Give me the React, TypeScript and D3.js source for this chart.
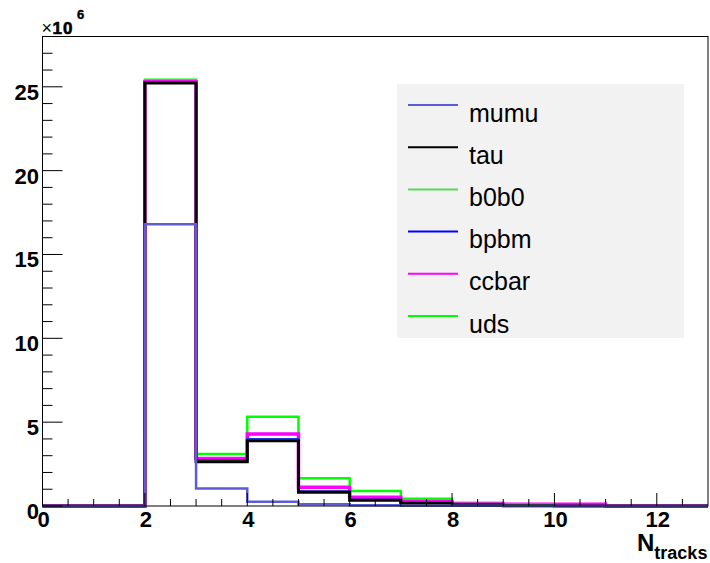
import { useEffect, useRef } from "react";
import * as d3 from "d3";

// bins of width 1 from 0 to 13, values in units of 1e6
const binEdges = d3.range(0, 14);
const seriesNames = ["mumu", "tau", "b0b0", "bpbm", "ccbar", "uds"];
const seriesColors = ["#5c5cd6", "#000000", "#5fd35f", "#0000ff", "#ff00ff", "#00ff00"];
const seriesWidths = [2.5, 3, 2, 2, 3.5, 2.5];

const mumu = [0, 0, 16.8, 1.05, 0.26, 0.1, 0.05, 0.02, 0.01, 0, 0, 0, 0];
const tau = [0, 0, 8.42, 1.59, 3.63, 0.72, 0.29, 0.14, 0.05, 0.02, 0, 0, 0];
const b0b0 = [0, 0, 0.03, 0.04, 0.06, 0.03, 0.02, 0.01, 0.02, 0.08, 0, 0, 0];
const bpbm = [0, 0, 0.03, 0.04, 0.05, 0.03, 0.02, 0.01, 0.01, 0, 0, 0, 0];
const ccbar = [0, 0, 0.02, 0.12, 0.3, 0.24, 0.14, 0.08, 0.03, 0, 0.1, 0, 0];
const uds = [0, 0, 0.12, 0.26, 1.02, 0.53, 0.37, 0.17, 0.08, 0, 0, 0, 0];

const xMajorTicks = [0, 2, 4, 6, 8, 10, 12];
const yMajorTicks = [0, 5, 10, 15, 20, 25];

export default function App() {
  const svgRef = useRef(null);

  useEffect(() => {
    const width = 710;
    const height = 563;
    const margin = { top: 36.5, right: 2, bottom: 57, left: 42.5 };
    const font = "Liberation Sans, Arial, Helvetica, sans-serif";

    d3.select(svgRef.current).selectAll("*").remove();

    const svg = d3
      .select(svgRef.current)
      .attr("width", width)
      .attr("height", height)
      .style("background", "#fff");

    const x = d3.scaleLinear().domain([0, 13]).range([margin.left, width - margin.right]);
    const y = d3.scaleLinear().domain([0, 28]).range([height - margin.bottom, margin.top]);

    // stack the samples
    const rows = binEdges.slice(0, -1).map((b, i) => ({
      bin: b,
      mumu: mumu[i],
      tau: tau[i],
      b0b0: b0b0[i],
      bpbm: bpbm[i],
      ccbar: ccbar[i],
      uds: uds[i],
    }));
    const stacked = d3.stack().keys(seriesNames)(rows);

    const line = d3
      .line()
      .x(d => x(d[0]))
      .y(d => y(d[1]))
      .curve(d3.curveStepAfter);

    // draw from the top of the stack down, so mumu ends up on top
    for (let k = stacked.length - 1; k >= 0; k--) {
      const tops = stacked[k].map(d => d[1]);
      const pts = tops.map((v, i) => [binEdges[i], v]);
      pts.push([13, tops[tops.length - 1]]);
      svg
        .append("path")
        .attr("d", line(pts))
        .attr("fill", "none")
        .attr("stroke", seriesColors[k])
        .attr("stroke-width", seriesWidths[k]);
    }

    // frame
    svg
      .append("rect")
      .attr("x", x(0))
      .attr("y", y(28))
      .attr("width", x(13) - x(0))
      .attr("height", y(0) - y(28))
      .attr("fill", "none")
      .attr("stroke", "#000")
      .attr("stroke-width", 1);

    // y ticks
    const yMinor = d3.range(1, 29).filter(v => v % 5 !== 0);
    svg
      .append("g")
      .selectAll("line")
      .data(yMinor)
      .enter()
      .append("line")
      .attr("x1", x(0))
      .attr("x2", x(0) + 10)
      .attr("y1", d => y(d))
      .attr("y2", d => y(d))
      .attr("stroke", "#000");
    svg
      .append("g")
      .selectAll("line")
      .data(yMajorTicks)
      .enter()
      .append("line")
      .attr("x1", x(0))
      .attr("x2", x(0) + 20)
      .attr("y1", d => y(d))
      .attr("y2", d => y(d))
      .attr("stroke", "#000");
    svg
      .append("g")
      .selectAll("text")
      .data(yMajorTicks)
      .enter()
      .append("text")
      .attr("x", 39)
      .attr("y", d => y(d) + 13)
      .attr("text-anchor", "end")
      .style("font-family", font)
      .style("font-weight", "bold")
      .style("font-size", "22px")
      .text(d => d);

    // x ticks
    const xMinor = d3.range(0.5, 13, 0.5).filter(v => v % 2 !== 0);
    svg
      .append("g")
      .selectAll("line")
      .data(xMinor)
      .enter()
      .append("line")
      .attr("x1", d => x(d))
      .attr("x2", d => x(d))
      .attr("y1", y(0))
      .attr("y2", y(0) - 7)
      .attr("stroke", "#000");
    svg
      .append("g")
      .selectAll("line")
      .data(xMajorTicks)
      .enter()
      .append("line")
      .attr("x1", d => x(d))
      .attr("x2", d => x(d))
      .attr("y1", y(0))
      .attr("y2", y(0) - 13)
      .attr("stroke", "#000");
    svg
      .append("g")
      .selectAll("text")
      .data(xMajorTicks)
      .enter()
      .append("text")
      .attr("x", d => x(d) + 1)
      .attr("y", 527)
      .attr("text-anchor", "middle")
      .style("font-family", font)
      .style("font-weight", "bold")
      .style("font-size", "22px")
      .text(d => d);

    // exponent label
    svg
      .append("text")
      .attr("x", 41.5)
      .attr("y", 33.5)
      .style("font-family", font)
      .style("font-size", "18px")
      .text("×");
    svg
      .append("text")
      .attr("x", 52.5)
      .attr("y", 33.5)
      .style("font-family", font)
      .style("font-weight", "bold")
      .style("font-size", "17px")
      .style("letter-spacing", "1px")
      .attr("stroke", "#000")
      .attr("stroke-width", 0.6)
      .text("10");
    svg
      .append("text")
      .attr("x", 77)
      .attr("y", 18.5)
      .style("font-family", font)
      .style("font-weight", "bold")
      .style("font-size", "13px")
      .attr("stroke", "#000")
      .attr("stroke-width", 0.4)
      .text("6");

    // axis title
    const title = svg
      .append("text")
      .attr("x", 637)
      .attr("y", 551)
      .style("font-family", font)
      .style("font-weight", "bold")
      .style("font-size", "24px");
    title.append("tspan").text("N");
    title.append("tspan").attr("dy", 8).style("font-size", "18px").text("tracks");

    // legend
    const legend = svg.append("g");
    legend
      .append("rect")
      .attr("x", 397)
      .attr("y", 84)
      .attr("width", 287)
      .attr("height", 254)
      .attr("fill", "#f2f2f2");
    const entry = legend
      .selectAll("g")
      .data(seriesNames)
      .enter()
      .append("g")
      .attr("transform", (d, i) => `translate(0, ${105 + i * 42.2})`);
    entry
      .append("line")
      .attr("x1", 408)
      .attr("x2", 458)
      .attr("stroke", (d, i) => seriesColors[i])
      .attr("stroke-width", 2);
    entry
      .append("text")
      .attr("x", 469)
      .attr("y", 16.5)
      .style("font-family", font)
      .style("font-size", "25px")
      .attr("fill", "#000")
      .text(d => d);
  }, []);

  return <svg ref={svgRef} style={{ position: "absolute", left: 0, top: 0 }}></svg>;
}
